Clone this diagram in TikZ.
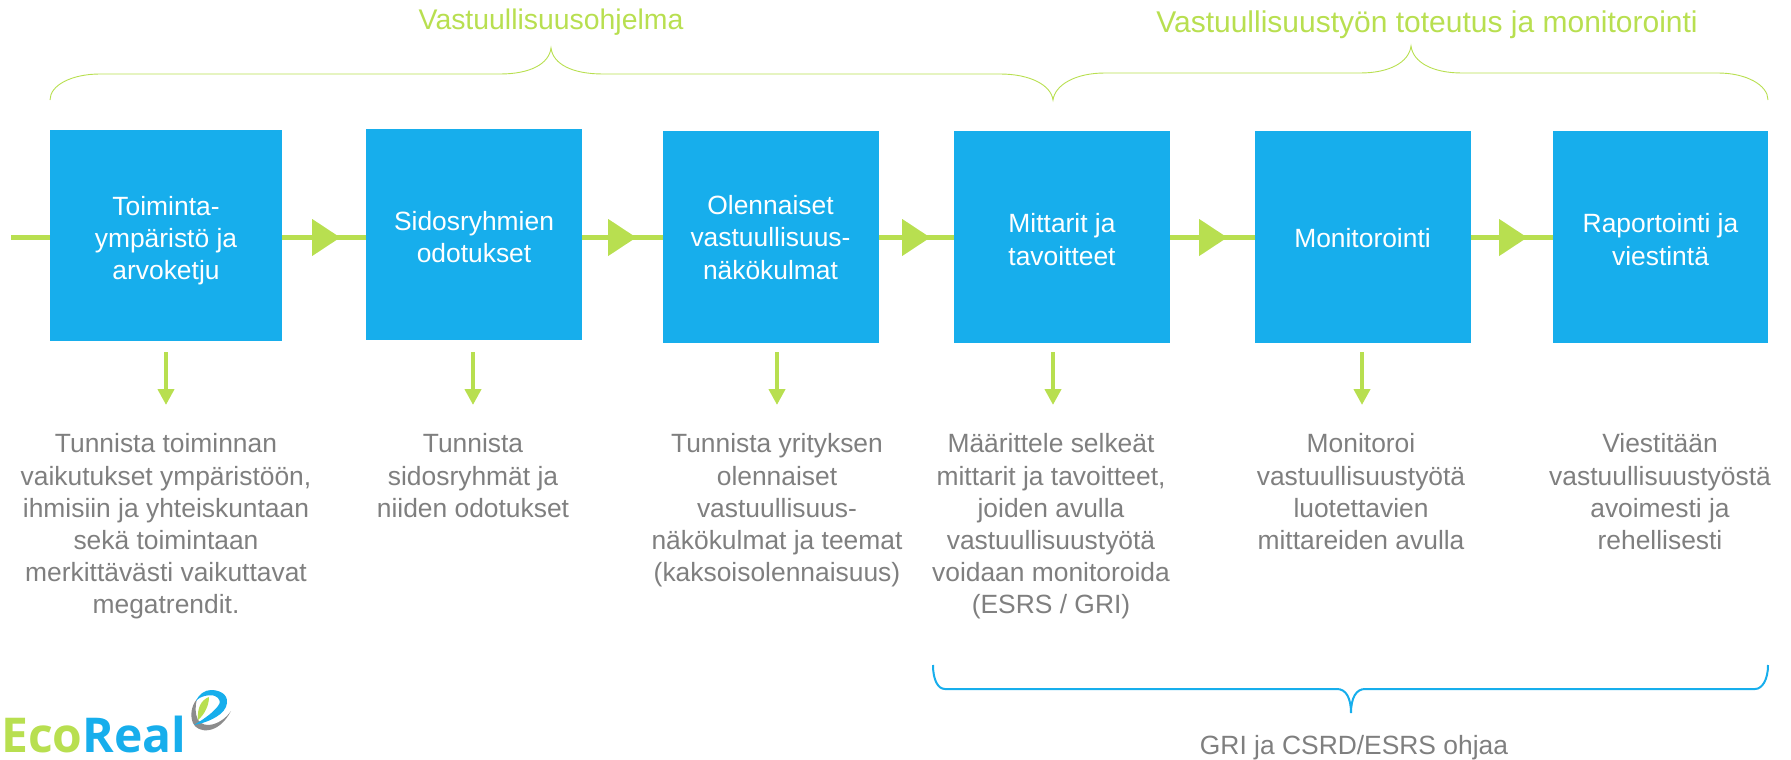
\documentclass[tikz,border=0pt]{standalone}
\usepackage{fontspec}
\setmainfont{Liberation Sans}
\usetikzlibrary{arrows.meta,decorations.markings,positioning,calc}
\definecolor{sky}{HTML}{17AEEC}
\definecolor{lime}{HTML}{B8DF50}
\definecolor{txtgray}{HTML}{7F7F7F}
\definecolor{logogray}{HTML}{8C8C8C}
\newfontfamily\logofont{Open Sans}[Scale=1]
\newcommand{\bfs}{\fontsize{26.4}{32.2}\selectfont}
\tikzset{
  x=1pt,y=-1pt,
  bx/.style={fill=sky,draw=none,inner sep=0pt,text=white,align=center,font=\bfs},
  blabel/.style={text=white,align=center,font=\bfs,inner sep=0pt},
  desc/.style={anchor=north,inner sep=0pt,text=txtgray,align=center,font=\bfs},
  flow/.style={draw=lime,line width=5pt,
    postaction={decorate},
    decoration={markings,mark=at position #1 with {\arrow[lime,line width=0pt]{Triangle[length=28pt,width=37pt]}}}},
  downarrow/.style={draw=lime,line width=4.5pt,-{Triangle[length=16pt,width=16pt]}},
  limebrace/.style={draw=lime,line width=0.9pt},
  skybrace/.style={draw=sky,line width=2pt},
  toplabel/.style={text=lime,inner sep=0pt,font=\fontsize{28.4}{34}\selectfont},
}
\begin{document}
\begin{tikzpicture}
\useasboundingbox (0,0) rectangle (1791,760);
% boxes
\node[bx,minimum width=232pt,minimum height=211pt] (b1) at (166,235.5) {};
\node[bx,minimum width=216pt,minimum height=211pt] (b2) at (474,234.5) {};
\node[bx,minimum width=216pt,minimum height=212pt] (b3) at (771,237) {};
\node[bx,minimum width=216pt,minimum height=212pt] (b4) at (1062,237) {};
\node[bx,minimum width=216pt,minimum height=212pt] (b5) at (1363,237) {};
\node[bx,minimum width=215pt,minimum height=212pt] (b6) at (1660.5,237) {};
% flow line
\coordinate (start) at (11,237.5);
\coordinate (ly) at (0,237.5);
\draw[draw=lime,line width=5pt] (start) -- (b1.west |- ly);
\draw[flow=58pt] (b1.east |- ly) -- (b2.west |- ly);
\draw[flow=54pt] (b2.east |- ly) -- (b3.west |- ly);
\draw[flow=51pt] (b3.east |- ly) -- (b4.west |- ly);
\draw[flow=57pt] (b4.east |- ly) -- (b5.west |- ly);
\draw[flow=56pt] (b5.east |- ly) -- (b6.west |- ly);
% box labels
\node[blabel] (l1) at (166,240.5) {Toiminta-\\ympäristö ja\\arvoketju};
\node[blabel] (l2) at (474,237) {Sidosryhmien\\odotukset};
\node[blabel] (l3) at (770.5,237.5) {Olennaiset\\vastuullisuus-\\näkökulmat};
\node[blabel] (l4) at (1062,239.5) {Mittarit ja\\tavoitteet};
\node[blabel] (l5) at (1362.5,238) {Monitorointi};
\node[blabel] (l6) at (1660.5,239.5) {Raportointi ja\\viestintä};
% descriptions
\node[desc] (d1) at (166,433.5) {Tunnista toiminnan\\vaikutukset ympäristöön,\\ihmisiin ja yhteiskuntaan\\sekä toimintaan\\merkittävästi vaikuttavat\\megatrendit.};
\node[desc] (d2) at (473,433.5) {Tunnista\\sidosryhmät ja\\niiden odotukset};
\node[desc] (d3) at (777,433.5) {Tunnista yrityksen\\olennaiset\\vastuullisuus-\\näkökulmat ja teemat\\(kaksoisolennaisuus)};
\node[desc] (d4) at (1051,433.5) {Määrittele selkeät\\mittarit ja tavoitteet,\\joiden avulla\\vastuullisuustyötä\\voidaan monitoroida\\(ESRS / GRI)};
\node[desc] (d5) at (1361,433.5) {Monitoroi\\vastuullisuustyötä\\luotettavien\\mittareiden avulla};
\node[desc] (d6) at (1660,433.5) {Viestitään\\vastuullisuustyöstä\\avoimesti ja\\rehellisesti};
% down arrows
\coordinate (a1s) at (166,352); \coordinate (a1e) at (166,405);
\coordinate (a2s) at (473,352); \coordinate (a2e) at (473,405);
\coordinate (a3s) at (777,352); \coordinate (a3e) at (777,405);
\coordinate (a4s) at (1053,352); \coordinate (a4e) at (1053,405);
\coordinate (a5s) at (1362,352); \coordinate (a5e) at (1362,405);
\draw[downarrow] (a1s) -- (a1e);
\draw[downarrow] (a2s) -- (a2e);
\draw[downarrow] (a3s) -- (a3e);
\draw[downarrow] (a4s) -- (a4e);
\draw[downarrow] (a5s) -- (a5e);
% top braces
\draw[limebrace] (50,100) .. controls (50,85) and (72,74) .. (100,74) -- (500,74)
  .. controls (530,74) and (549,64) .. (551,48) .. controls (553,64) and (572,74) .. (603,74) -- (1000,74)
  .. controls (1030,74) and (1051,85) .. (1053,100)
  .. controls (1055,85) and (1075,73) .. (1105,73) -- (1360,73)
  .. controls (1390,73) and (1409,62) .. (1411,46) .. controls (1413,62) and (1432,73) .. (1462,73) -- (1718,73)
  .. controls (1746,73) and (1768,85) .. (1768,100);
\node[toplabel] (t1) at (551,22) {Vastuullisuusohjelma};
\node[toplabel,font=\fontsize{30}{36}\selectfont] (t2) at (1427,25) {Vastuullisuustyön toteutus ja monitorointi};
% bottom brace
\draw[skybrace] (933,665) .. controls (933,680) and (938,689) .. (945,689) -- (1337,689)
  .. controls (1346,689) and (1351,698) .. (1351,713) .. controls (1351,698) and (1356,689) .. (1365,689) -- (1755,689)
  .. controls (1762,689) and (1768,680) .. (1768,665);
\node[text=txtgray,inner sep=0pt,font=\bfs] (t3) at (1354,748) {GRI ja CSRD/ESRS ohjaa};
% logo
\node[anchor=base west,inner sep=0pt,text depth=0pt,font=\logofont\bfseries\fontsize{48}{48}\selectfont] (logo) at (1,752) {\smash{\textcolor{lime}{Eco}\textcolor{sky}{Real}}};
\fill[logogray] (197,699) .. controls (191,706) and (190,716) .. (193,723) .. controls (197,733) and (218,736) .. (231,711) .. controls (222,724) and (205,730) .. (198,720) .. controls (195,714) and (195,706) .. (197,699) -- cycle;
\fill[lime] (198,720) .. controls (197,708) and (201,700) .. (209,697) .. controls (209,705) and (205,714) .. (198,720) -- cycle;
\fill[sky] (194,725) .. controls (210,722) and (226,714) .. (227,703) .. controls (228,693) and (218,690) .. (211,690) .. controls (205,690) and (199,694) .. (196,701) .. controls (200,696) and (210,694) .. (215,696) .. controls (220,698) and (221,703) .. (218,706) .. controls (212,714) and (202,720) .. (194,725) -- cycle;
\end{tikzpicture}
\end{document}
